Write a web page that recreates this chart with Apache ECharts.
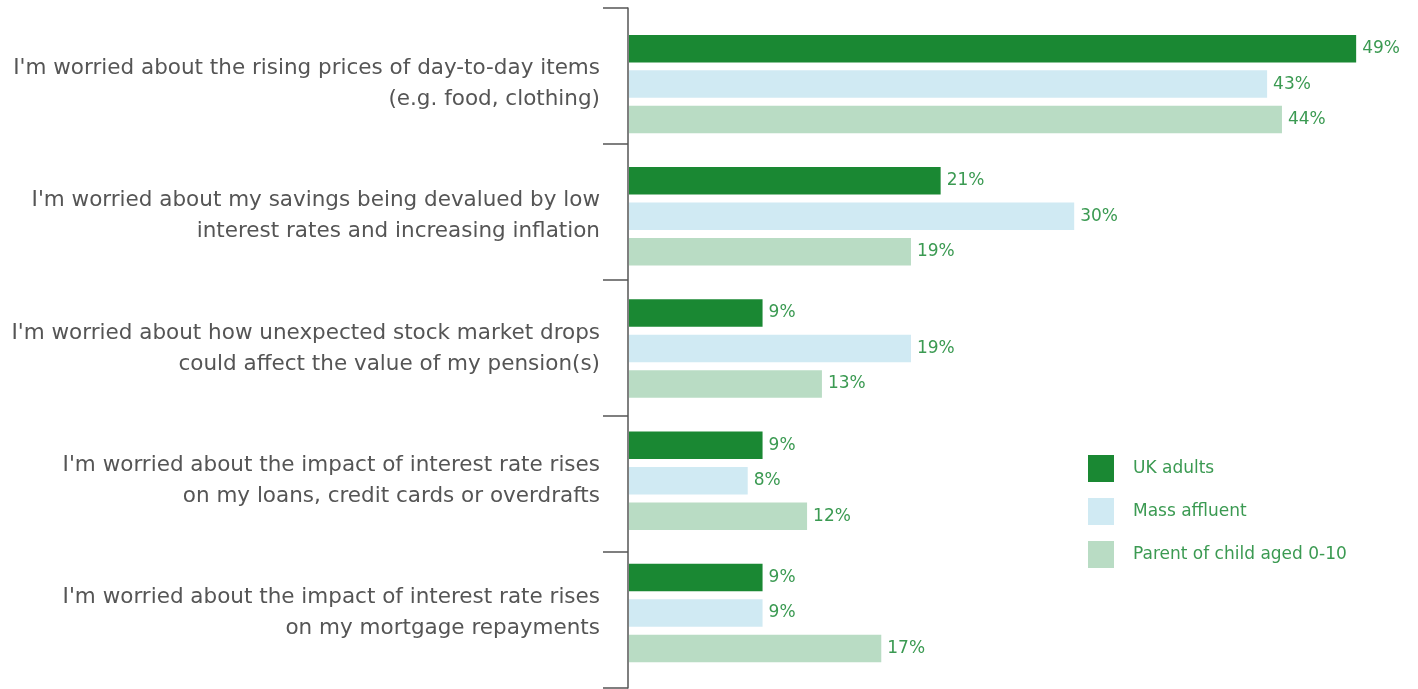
<!DOCTYPE html>
<html>
<head>
<meta charset="utf-8">
<script src="https://cdn.jsdelivr.net/npm/echarts@6/dist/echarts.min.js"></script>
<style>
  html, body { margin: 0; padding: 0; background: #fff; }
  #main { width: 1418px; height: 689px; }
</style>
</head>
<body>
<div id="main"></div>
<script>
var categories = [
  "I'm worried about the rising prices of day-to-day items\n(e.g. food, clothing)",
  "I'm worried about my savings being devalued by low\ninterest rates and increasing inflation",
  "I'm worried about how unexpected stock market drops\ncould affect the value of my pension(s)",
  "I'm worried about the impact of interest rate rises\non my loans, credit cards or overdrafts",
  "I'm worried about the impact of interest rate rises\non my mortgage repayments"
];
var ukAdults = [49, 21, 9, 9, 9];
var massAffluent = [43, 30, 19, 8, 9];
var parents = [44, 19, 13, 12, 17];

var labelColor = '#3b9a52';
var font = 'DejaVu Sans';

function barSeries(name, data, color) {
  return {
    name: name,
    type: 'bar',
    data: data,
    xAxisIndex: 0,
    yAxisIndex: 0,
    barWidth: 27.5,
    barGap: '29%',
    itemStyle: { color: color },
    label: {
      show: true,
      position: 'right',
      distance: 6,
      formatter: '{c}%',
      color: labelColor,
      fontSize: 17,
      fontFamily: font
    }
  };
}

var myChart = echarts.init(document.getElementById('main'));
var option = {
  backgroundColor: '#fff',
  animation: false,
  legend: {
    orient: 'vertical',
    left: 1088,
    top: 455,
    padding: 0,
    itemWidth: 26,
    itemHeight: 27,
    itemGap: 16,
    icon: 'rect',
    textStyle: { color: labelColor, fontSize: 17, fontFamily: font, padding: [0, 0, 0, 14] },
    data: ['UK adults', 'Mass affluent', 'Parent of child aged 0-10']
  },
  grid: [
    { left: 629, right: 47, top: 18, bottom: 10 },
    { left: 628, right: 47, top: 8, bottom: 1 }
  ],
  xAxis: [
    { type: 'value', gridIndex: 0, min: 0, max: 50, show: false },
    { type: 'value', gridIndex: 1, min: 0, max: 50, show: false }
  ],
  yAxis: [
    {
      type: 'category',
      gridIndex: 0,
      inverse: true,
      data: categories,
      axisLine: { show: false },
      axisTick: { show: false },
      axisLabel: {
        margin: 29,
        color: '#555',
        fontSize: 21.5,
        lineHeight: 31,
        fontFamily: font,
        align: 'right'
      }
    },
    {
      type: 'category',
      gridIndex: 1,
      inverse: true,
      z: 5,
      data: categories,
      axisLine: { show: true, lineStyle: { color: '#555', width: 1.5 } },
      axisTick: { show: true, length: 25, lineStyle: { color: '#555', width: 1.5 } },
      axisLabel: { show: false }
    }
  ],
  series: [
    barSeries('UK adults', ukAdults, '#1a8833'),
    barSeries('Mass affluent', massAffluent, '#d0eaf3'),
    barSeries('Parent of child aged 0-10', parents, '#b9dcc4')
  ]
};
myChart.setOption(option);
</script>
</body>
</html>
